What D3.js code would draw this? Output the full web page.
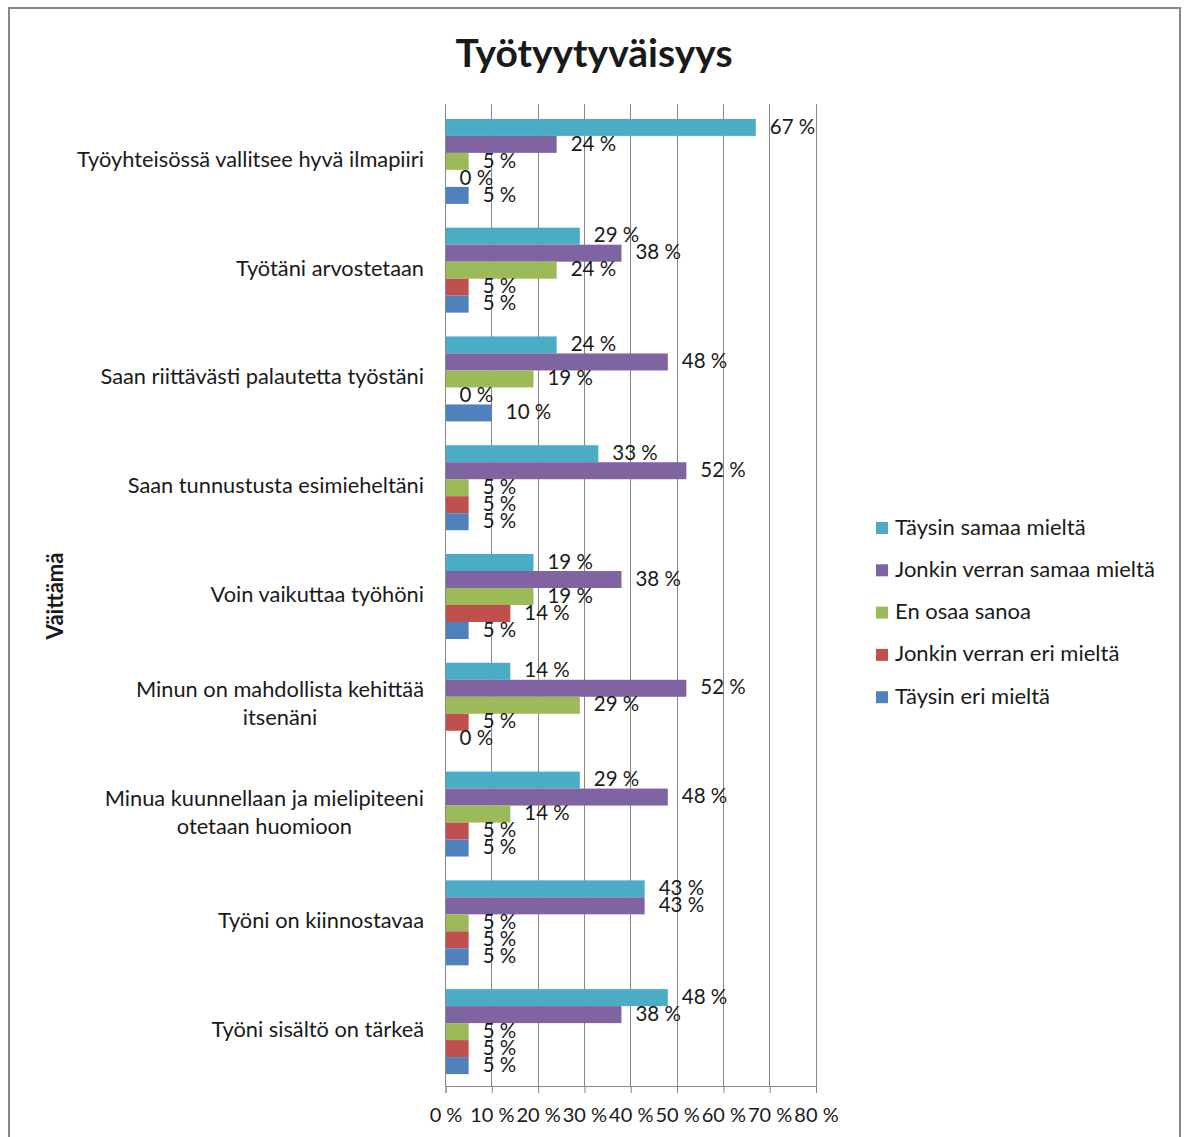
<!DOCTYPE html>
<html><head><meta charset="utf-8">
<script src="https://cdn.jsdelivr.net/npm/d3@7"></script>
<style>
body{margin:0;background:#fff;}
svg text{font-family:Lato,"Open Sans",sans-serif;fill:#1a1a1a;}
</style></head>
<body>
<svg id="chart" width="1186" height="1137"></svg>
<script>
const categories = [
  ["Työyhteisössä vallitsee hyvä ilmapiiri"],
  ["Työtäni arvostetaan"],
  ["Saan riittävästi palautetta työstäni"],
  ["Saan tunnustusta esimieheltäni"],
  ["Voin vaikuttaa työhöni"],
  ["Minun on mahdollista kehittää", "itsenäni"],
  ["Minua kuunnellaan ja mielipiteeni", "otetaan huomioon"],
  ["Työni on kiinnostavaa"],
  ["Työni sisältö on tärkeä"]
];
const seriesNames = ["Täysin samaa mieltä","Jonkin verran samaa mieltä","En osaa sanoa","Jonkin verran eri mieltä","Täysin eri mieltä"];
const seriesColors = ["#4BACC6","#8064A2","#9BBB59","#C0504D","#4F81BD"];
const taysinSamaa   = [67,29,24,33,19,14,29,43,48];
const jonkinSamaa   = [24,38,48,52,38,52,48,43,38];
const enOsaa        = [5,24,19,5,19,29,14,5,5];
const jonkinEri     = [0,5,0,5,14,5,5,5,5];
const taysinEri     = [5,5,10,5,5,0,5,5,5];
const seriesValues = [taysinSamaa,jonkinSamaa,enOsaa,jonkinEri,taysinEri];
const tickValues = [0,10,20,30,40,50,60,70,80];
const chartTitle = "Työtyytyväisyys";
const axisTitle = "Väittämä";

(function(){
const svg = d3.select("#chart");
// outer frame
svg.append("rect").attr("x",9).attr("y",8).attr("width",1171).attr("height",1140)
  .attr("fill","#fff").attr("stroke","#878787").attr("stroke-width",2);

const pLeft = 445.5, pRight = 816, pTop = 107, pBottom = 1086;
const x = d3.scaleLinear().domain([0,80]).range([pLeft,pRight]);
const catIdx = d3.range(categories.length);
const y0 = d3.scaleBand().domain(catIdx).range([pTop,pBottom]);
const y1 = d3.scaleBand().domain(d3.range(seriesNames.length)).range([0,y0.bandwidth()]).paddingOuter(0.7);

// gridlines
svg.append("g").selectAll("line").data(tickValues.slice(1)).join("line")
  .attr("x1",d=>x(d)).attr("x2",d=>x(d)).attr("y1",pTop-3).attr("y2",pBottom)
  .attr("stroke","#868686").attr("stroke-width",1).attr("shape-rendering","crispEdges");

// bars
const data = [];
catIdx.forEach(ci=>seriesValues.forEach((arr,si)=>data.push({ci,si,v:arr[ci]})));
svg.append("g").selectAll("rect").data(data).join("rect")
  .attr("x",x(0)).attr("y",d=>y0(d.ci)+y1(d.si))
  .attr("width",d=>x(d.v)-x(0)).attr("height",y1.bandwidth())
  .attr("fill",d=>seriesColors[d.si]);

// value labels
svg.append("g").selectAll("text").data(data).join("text")
  .attr("x",d=>x(d.v)+14).attr("y",d=>y0(d.ci)+y1(d.si)+y1.bandwidth()/2+1)
  .attr("dominant-baseline","middle").attr("font-size",20.5)
  .text(d=>d.v+" %");

// x axis
const xAxis = d3.axisBottom(x).tickValues(tickValues).tickSize(7).tickFormat(d=>d+" %");
const gx = svg.append("g").attr("transform",`translate(0,${pBottom})`).call(xAxis);
gx.select(".domain").attr("stroke","#868686");
gx.selectAll(".tick line").attr("stroke","#868686");
gx.selectAll(".tick text").attr("font-size",20).attr("font-family","Lato,'Open Sans',sans-serif")
  .attr("fill","#1a1a1a").attr("dy",0).attr("y",36);

// y axis line
svg.append("line").attr("x1",pLeft).attr("x2",pLeft).attr("y1",pTop-3).attr("y2",pBottom)
  .attr("stroke","#868686").attr("shape-rendering","crispEdges");

// category labels
const catG = svg.append("g");
categories.forEach((lines,ci)=>{
  const cy = y0(ci)+y0.bandwidth()/2;
  const g = catG.append("g");
  const texts = lines.map((ln,li)=>g.append("text").attr("font-size",21.8)
    .attr("dominant-baseline","middle")
    .attr("y",cy+(li-(lines.length-1)/2)*28).text(ln));
  const w = d3.max(texts,t=>t.node().getComputedTextLength());
  texts.forEach(t=>t.attr("x",424-w/2).attr("text-anchor","middle"));
});

// title
svg.append("text").attr("x",594).attr("y",67).attr("text-anchor","middle")
  .attr("font-size",39).attr("font-weight","bold").text(chartTitle);

// axis title
svg.append("text").attr("transform","translate(63,596) rotate(-90)").attr("text-anchor","middle")
  .attr("font-size",22).attr("font-weight","bold").text(axisTitle);

// legend
const lg = svg.append("g").selectAll("g").data(seriesNames).join("g")
  .attr("transform",(d,i)=>`translate(876,${528+i*42.3})`);
lg.append("rect").attr("x",0).attr("y",-6).attr("width",12).attr("height",12)
  .attr("fill",(d,i)=>seriesColors[i]);
lg.append("text").attr("x",19).attr("y",1).attr("dominant-baseline","middle")
  .attr("font-size",22).text(d=>d);
})();
</script>
</body></html>
